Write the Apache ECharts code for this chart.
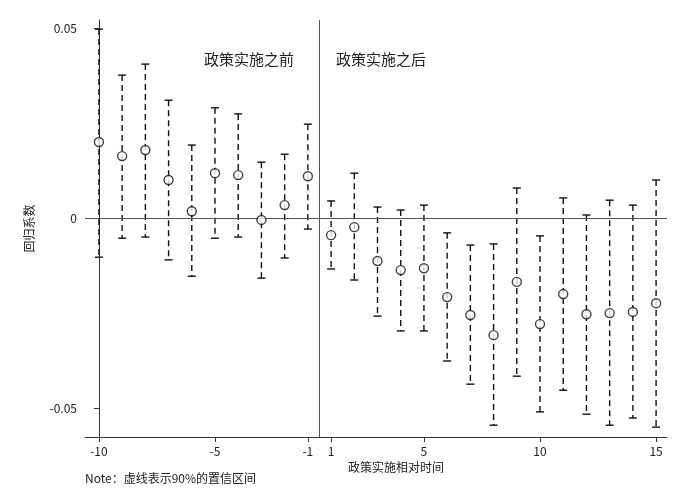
<!DOCTYPE html><html><head><meta charset="utf-8"><script src="https://cdn.jsdelivr.net/npm/echarts@6/dist/echarts.min.js"></script>
<style>body{margin:0;background:#fff}#c{width:687px;height:500px}</style></head><body><div id="c"></div><script>
const periods=[-10,-9,-8,-7,-6,-5,-4,-3,-2,-1,1,2,3,4,5,6,7,8,9,10,11,12,13,14,15];
const coef=[0.020,0.0163,0.0179,0.010,0.0018,0.0118,0.0113,-0.0005,0.0034,0.011,-0.0045,-0.0024,-0.0113,-0.0137,-0.0132,-0.0208,-0.0255,-0.0308,-0.0168,-0.0279,-0.020,-0.0253,-0.025,-0.0247,-0.0224];
const upper=[0.0497,0.0376,0.0405,0.031,0.0192,0.029,0.0274,0.0147,0.0168,0.0247,0.0045,0.0118,0.0029,0.0021,0.0034,-0.0039,-0.0071,-0.0068,0.0079,-0.0047,0.0053,0.0008,0.0047,0.0034,0.010];
const lower=[-0.0103,-0.0053,-0.005,-0.011,-0.0153,-0.0053,-0.005,-0.0158,-0.0105,-0.0029,-0.0134,-0.0163,-0.0258,-0.0297,-0.0297,-0.0376,-0.0437,-0.0545,-0.0416,-0.051,-0.0453,-0.0516,-0.0545,-0.0526,-0.055];
const xTicks=[-10,-5,-1,1,5,10,15];
const yTicks=[-0.05,0,0.05];
const idx=periods.map((p,i)=>i);
const f="'Noto Sans CJK SC','Noto Sans',sans-serif";
const c=echarts.init(document.getElementById('c'));
const tickIdx=xTicks.map(t=>periods.indexOf(t));
c.setOption({
 animation:false,
 grid:{left:85,right:20,top:20,bottom:63},
 xAxis:{type:'value',min:-0.6,max:24.47,
  axisLine:{onZero:false,lineStyle:{color:'#333'}},splitLine:{show:false},
  axisTick:{customValues:tickIdx,length:5,lineStyle:{color:'#333'}},
  axisLabel:{customValues:tickIdx,formatter:v=>String(periods[Math.round(v)]),color:'#222',fontSize:12,fontFamily:f},
  name:'政策实施相对时间',nameLocation:'middle',nameGap:16,nameTextStyle:{color:'#222',fontSize:12,fontFamily:f,padding:[0,0,0,40]}},
 yAxis:{type:'value',min:-0.0576,max:0.0521,
  axisLine:{show:true,lineStyle:{color:'#333'}},splitLine:{show:false},
  axisTick:{customValues:yTicks,length:5,lineStyle:{color:'#333'}},
  axisLabel:{customValues:yTicks,formatter:v=>v===0?'0':String(v),color:'#222',fontSize:12,fontFamily:f},
  name:'回归系数',nameLocation:'middle',nameGap:50,nameTextStyle:{color:'#222',fontSize:12,fontFamily:f}},
 graphic:[{type:'text',left:85,top:472,style:{text:'Note：虚线表示90%的置信区间',fill:'#222',font:'12px '+f}}],
 series:[
  {type:'custom',renderItem:(p,api)=>{
    const x=api.value(0),a=api.coord([x,api.value(1)]),b=api.coord([x,api.value(2)]);
    const s={stroke:'#111',lineWidth:1.4};
    return {type:'group',children:[
     {type:'line',shape:{x1:a[0],y1:a[1],x2:b[0],y2:b[1]},style:{...s,lineDash:[6,4]}},
     {type:'line',shape:{x1:a[0]-4,y1:a[1],x2:a[0]+4,y2:a[1]},style:s},
     {type:'line',shape:{x1:b[0]-4,y1:b[1],x2:b[0]+4,y2:b[1]},style:s}]};
   },data:idx.map(i=>[i,upper[i],lower[i]]),z:2},
  {type:'scatter',data:idx.map(i=>[i,coef[i]]),symbol:'circle',symbolSize:9,
   itemStyle:{color:'#fff',borderColor:'#111',borderWidth:1.4},z:5,
   markLine:{silent:true,symbol:'none',label:{show:false},
    data:[{yAxis:0,lineStyle:{color:'#555',width:1,type:'solid'}},{xAxis:9.5,lineStyle:{color:'#555',width:1,type:'solid'}}]}},
 ]
});
c.setOption({graphic:[{type:'text',left:85,top:472,style:{text:'Note：虚线表示90%的置信区间',fill:'#222',font:'12px '+f}},
 {type:'text',left:204,top:52,style:{text:'政策实施之前',fill:'#222',font:'15px '+f}},
 {type:'text',left:336,top:52,style:{text:'政策实施之后',fill:'#222',font:'15px '+f}}]});
</script></body></html>
